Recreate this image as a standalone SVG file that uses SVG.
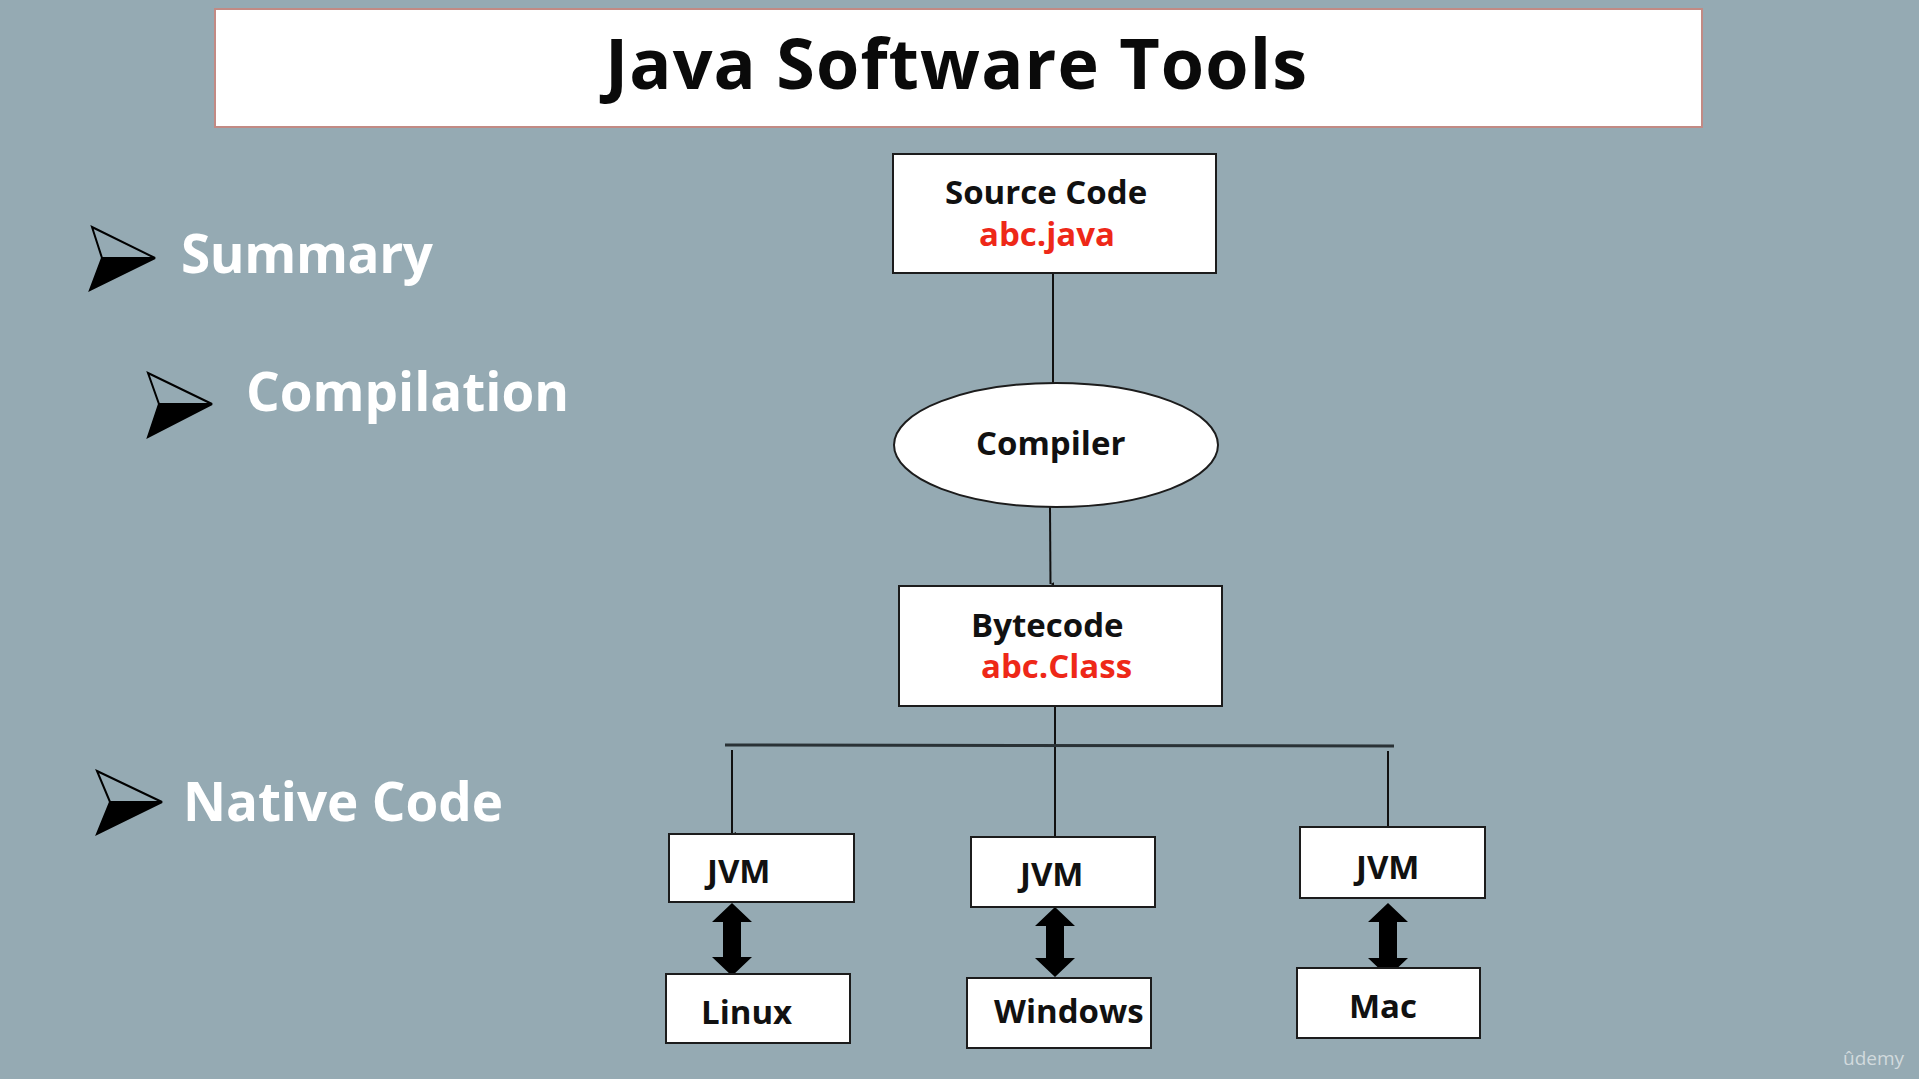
<svg xmlns="http://www.w3.org/2000/svg" width="1919" height="1079" viewBox="0 0 1919 1079">
  <defs>
    <style>
      .bg { fill: #95aab3; }
      .box { fill: #ffffff; stroke: #1c1c1c; stroke-width: 2; }
      .lbl { font-family: "Open Sans", "Noto Sans", "Liberation Sans", sans-serif; font-weight: 700; font-size: 33px; fill: #111111; }
      .red { fill: #ee2818; }
      .head { font-family: "Open Sans", "Noto Sans", "Liberation Sans", sans-serif; font-weight: 700; font-size: 53px; fill: #ffffff; }
      .wire { stroke: #111111; stroke-width: 2; fill: none; }
      .bar { stroke: #2a3236; stroke-width: 3; fill: none; }
      .dbl { fill: #000000; }
      .bul-top { fill: #95aab3; stroke: #000000; stroke-width: 2; stroke-linejoin: miter; }
      .bul-bot { fill: #000000; stroke: #000000; stroke-width: 2; }
    </style>
    <marker id="tiny" viewBox="0 0 6 6" refX="3" refY="6" markerWidth="4" markerHeight="4" orient="auto-start-reverse" markerUnits="userSpaceOnUse">
      <path d="M0,0 L6,0 L3,6 Z" fill="#111111"/>
    </marker>
  </defs>

  <rect class="bg" x="0" y="0" width="1919" height="1079"/>

  <!-- Title -->
  <g id="title">
    <rect x="215" y="9" width="1487" height="118" fill="#ffffff" stroke="#c28a84" stroke-width="2"/>
    <text x="605" y="89" textLength="702" lengthAdjust="spacing" style="font-family: 'Open Sans', 'Noto Sans', 'Liberation Sans', sans-serif; font-weight: 700; font-size: 70px; fill: #0a0a0a;">Java Software Tools</text>
  </g>

  <!-- Bullets / headings -->
  <g id="bullet-summary">
    <polygon class="bul-top" points="92,227 155,258 102,258"/>
    <polygon class="bul-bot" points="102,258 155,258 90,290"/>
    <text class="head" x="181" y="273" textLength="252" lengthAdjust="spacing">Summary</text>
  </g>
  <g id="bullet-compilation">
    <polygon class="bul-top" points="148,373 212,404 159,404"/>
    <polygon class="bul-bot" points="159,404 212,404 148,437"/>
    <text class="head" x="246" y="411" textLength="323" lengthAdjust="spacing">Compilation</text>
  </g>
  <g id="bullet-native">
    <polygon class="bul-top" points="97,771 162,802 110,802"/>
    <polygon class="bul-bot" points="110,802 162,802 97,834"/>
    <text class="head" x="183" y="821" textLength="320" lengthAdjust="spacing">Native Code</text>
  </g>

  <!-- Connectors -->
  <g id="connectors">
    <line class="wire" x1="1053" y1="273" x2="1053" y2="384"/>
    <line class="wire" x1="1050" y1="507" x2="1050.5" y2="584" marker-end="url(#tiny)" stroke-width="1.8"/>
    <line class="wire" x1="1055" y1="706" x2="1055" y2="837"/>
    <line class="bar" x1="725" y1="745" x2="1394" y2="746"/>
    <line class="wire" x1="732" y1="750" x2="732" y2="834" marker-end="url(#tiny)" stroke-width="1.6"/>
    <line class="wire" x1="1388" y1="751" x2="1388" y2="827" stroke-width="1.6"/>
    <!-- double-headed arrows -->
    <polygon class="dbl" points="732,903 752,922 741,922 741,957 752,957 732,976 712,957 723,957 723,922 712,922"/>
    <polygon class="dbl" points="1055,907 1075,926 1064,926 1064,958 1075,958 1055,977 1035,958 1046,958 1046,926 1035,926"/>
    <polygon class="dbl" points="1388,903 1408,922 1397,922 1397,958 1408,958 1388,977 1368,958 1379,958 1379,922 1368,922"/>
  </g>

  <!-- Nodes -->
  <g id="node-source">
    <rect class="box" x="893" y="154" width="323" height="119"/>
    <text class="lbl" x="945" y="204">Source Code</text>
    <text class="lbl red" x="979" y="246">abc.java</text>
  </g>
  <g id="node-compiler">
    <ellipse cx="1056" cy="445" rx="162" ry="62" fill="#ffffff" stroke="#1c1c1c" stroke-width="2"/>
    <text class="lbl" x="976" y="455">Compiler</text>
  </g>
  <g id="node-bytecode">
    <rect class="box" x="899" y="586" width="323" height="120"/>
    <text class="lbl" x="971" y="637">Bytecode</text>
    <text class="lbl red" x="981" y="678">abc.Class</text>
  </g>
  <g id="node-jvm-linux">
    <rect class="box" x="669" y="834" width="185" height="68"/>
    <text class="lbl" x="707" y="883">JVM</text>
  </g>
  <g id="node-linux">
    <rect class="box" x="666" y="974" width="184" height="69"/>
    <text class="lbl" x="701" y="1024">Linux</text>
  </g>
  <g id="node-jvm-windows">
    <rect class="box" x="971" y="837" width="184" height="70"/>
    <text class="lbl" x="1020" y="886">JVM</text>
  </g>
  <g id="node-windows">
    <rect class="box" x="967" y="978" width="184" height="70"/>
    <text class="lbl" x="994" y="1023">Windows</text>
  </g>
  <g id="node-jvm-mac">
    <rect class="box" x="1300" y="827" width="185" height="71"/>
    <text class="lbl" x="1356" y="879">JVM</text>
  </g>
  <g id="node-mac">
    <rect class="box" x="1297" y="968" width="183" height="70"/>
    <text class="lbl" x="1349" y="1018">Mac</text>
  </g>

  <!-- Watermark -->
  <text x="1843" y="1065" style="font-family: 'Open Sans', 'Noto Sans', sans-serif; font-size: 19px; fill: #d2dadd;">ûdemy</text>
</svg>
